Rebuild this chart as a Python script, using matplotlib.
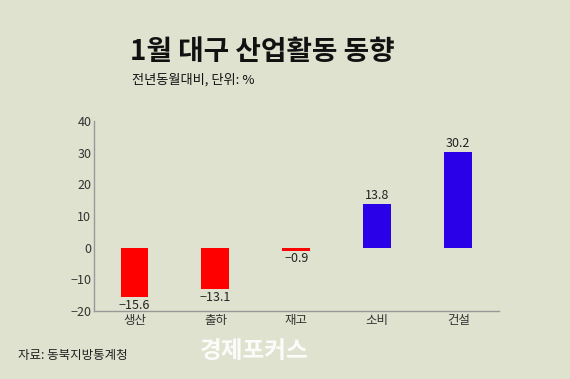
import matplotlib
matplotlib.use("Agg")
import matplotlib.pyplot as plt

plt.rcParams['font.family'] = ['Noto Sans CJK KR', 'DejaVu Sans']

categories = ['생산', '출하', '재고', '소비', '건설']
values = [-15.6, -13.1, -0.9, 13.8, 30.2]
yticks = [-20, -10, 0, 10, 20, 30, 40]

bg = '#dfe2cf'
colors = ['#ff0000' if v < 0 else '#2a00e8' for v in values]

fig = plt.figure(figsize=(5.7, 3.79), dpi=100, facecolor=bg)
ax = fig.add_axes([0.165, 0.179, 0.71, 0.502])
ax.set_facecolor(bg)

x = range(len(categories))
bars = ax.bar(x, values, width=0.345, color=colors)

for xi, v in zip(x, values):
    if v < 0:
        ax.text(xi, v - 0.5, f'{v:.1f}'.replace('-', '\u2212'), ha='center', va='top',
                fontsize=9, color='#222222')
    else:
        ax.text(xi, v + 0.5, f'{v:.1f}', ha='center', va='bottom',
                fontsize=9, color='#222222')

ax.set_xlim(-0.5, 4.5)
ax.set_ylim(-20, 40)
ax.set_yticks(yticks)
ax.set_yticklabels([str(t).replace('-', '\u2212') for t in yticks])
ax.set_xticks(list(x))
ax.set_xticklabels(categories)
ax.tick_params(axis='both', length=0, labelsize=9, colors='#333333', pad=2)
for s in ['top', 'right']:
    ax.spines[s].set_visible(False)
for s in ['left', 'bottom']:
    ax.spines[s].set_color('#999999')
    ax.spines[s].set_linewidth(1)

fig.text(0.46, 0.862, '1월 대구 산업활동 동향', ha='center', va='center',
         fontsize=20, fontweight='heavy', color='#111111')
fig.text(0.232, 0.79, '전년동월대비, 단위: %', ha='left', va='center',
         fontsize=9.5, color='#111111')
fig.text(0.032, 0.063, '자료: 동북지방통계청', ha='left', va='center',
         fontsize=9, color='#222222')
fig.text(0.35, 0.073, '경제포커스', ha='left', va='center',
         fontsize=17, fontweight='bold', color='#ffffff', alpha=0.9)

fig.savefig('out.png', dpi=100, facecolor=bg)
